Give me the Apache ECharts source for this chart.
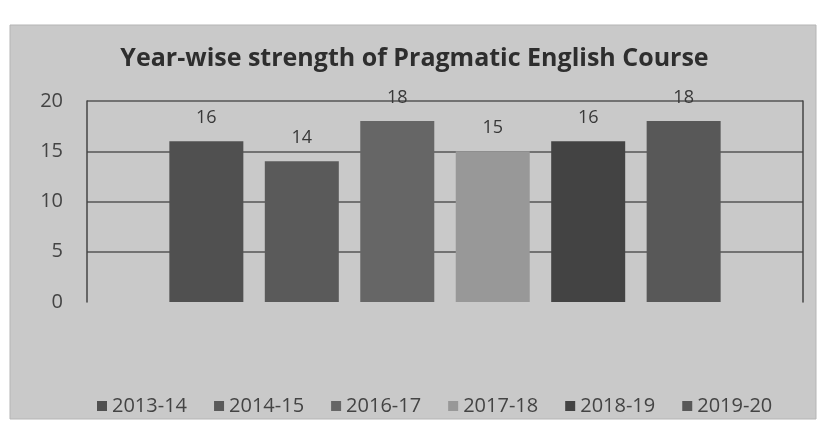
<!DOCTYPE html>
<html>
<head>
<meta charset="utf-8">
<title>Year-wise strength of Pragmatic English Course</title>
<script src="https://cdn.jsdelivr.net/npm/echarts@6/dist/echarts.min.js"></script>
<style>
    html, body { margin: 0; padding: 0; background: #fff; }
    #chart { width: 829px; height: 437px; }
</style>
</head>
<body>
<div id="chart"></div>
<script>
// data
var years = ['2013-14', '2014-15', '2016-17', '2017-18', '2018-19', '2019-20'];
var strength = [16, 14, 18, 15, 16, 18];
var barColors = ['#505050', '#5a5a5a', '#666666', '#989898', '#434343', '#585858'];
var yTicks = [0, 5, 10, 15, 20];

var myChart = echarts.init(document.getElementById('chart'));

var series = [];
for (var i = 0; i < years.length; i++) {
    series.push({
        name: years[i],
        type: 'bar',
        data: [strength[i]],
        barWidth: 74,
        barGap: '29%',
        itemStyle: { color: barColors[i] },
        label: {
            show: true,
            position: 'top',
            distance: 14,
            fontFamily: 'Open Sans',
            fontSize: 18,
            color: '#383838'
        }
    });
}

// no line at 0, lines at 5..20
var splitColors = ['rgba(0,0,0,0)', '#555', '#555', '#555', '#555'];

var option = {
    backgroundColor: '#fff',
    animation: false,
    graphic: [{
        type: 'rect',
        z: -10,
        shape: { x: 10, y: 25, width: 806, height: 394 },
        style: { fill: '#c9c9c9', stroke: '#b5b5b5' }
    }],
    title: {
        text: 'Year-wise strength of Pragmatic English Course',
        left: 'center',
        top: 41,
        textStyle: {
            fontFamily: 'Open Sans',
            fontSize: 25,
            fontWeight: 'bold',
            color: '#2e2e2e'
        }
    },
    legend: {
        data: years,
        top: 391,
        left: 92,
        itemWidth: 10,
        itemHeight: 10,
        itemGap: 27,
        icon: 'rect',
        textStyle: { fontFamily: 'Open Sans', fontSize: 20, color: '#444' }
    },
    grid: {
        left: 87,
        right: 26,
        top: 101,
        bottom: 135
    },
    xAxis: {
        type: 'category',
        data: [''],
        axisLine: { show: false },
        axisTick: { show: false },
        axisLabel: { show: false }
    },
    yAxis: [{
        type: 'value',
        min: yTicks[0],
        max: yTicks[yTicks.length - 1],
        interval: 5,
        axisLine: { show: true, lineStyle: { color: '#444', width: 1.5 } },
        axisTick: { show: false },
        axisLabel: { fontFamily: 'Open Sans', fontSize: 20, color: '#444', margin: 24 },
        splitLine: { lineStyle: { color: splitColors, width: 1.5 } }
    }, {
        type: 'value',
        position: 'right',
        min: yTicks[0],
        max: yTicks[yTicks.length - 1],
        interval: 5,
        axisLine: { show: true, lineStyle: { color: '#444', width: 1.5 } },
        axisTick: { show: false },
        axisLabel: { show: false },
        splitLine: { show: false }
    }],
    series: series
};
myChart.setOption(option);
</script>
</body>
</html>
